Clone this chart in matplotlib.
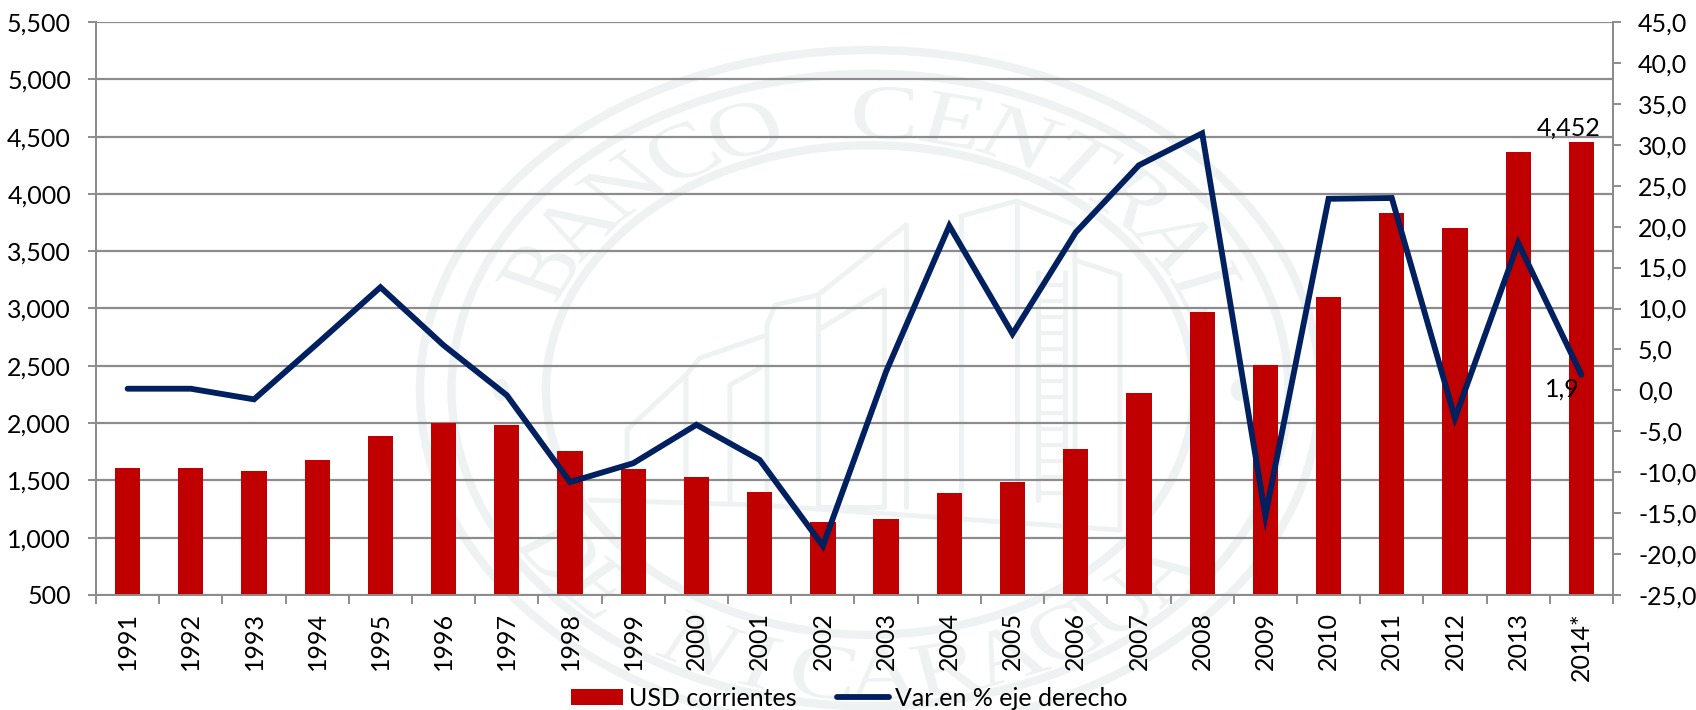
import numpy as np
import matplotlib
matplotlib.use("Agg")
import matplotlib.pyplot as plt
from matplotlib.patches import Ellipse, PathPatch
from matplotlib.path import Path
from matplotlib.textpath import TextPath
from matplotlib.font_manager import FontProperties
from matplotlib.transforms import Affine2D

# data
years = ["1991", "1992", "1993", "1994", "1995", "1996", "1997", "1998", "1999", "2000", "2001", "2002",
         "2003", "2004", "2005", "2006", "2007", "2008", "2009", "2010", "2011", "2012", "2013", "2014*"]
usd = [1605, 1605, 1585, 1680, 1885, 2000, 1985, 1760, 1600, 1530, 1400, 1135,
       1160, 1390, 1490, 1775, 2260, 2970, 2510, 3100, 3830, 3700, 4365, 4452]
var_pct = [0.2, 0.2, -1.1, 5.7, 12.6, 5.5, -0.6, -11.2, -8.9, -4.2, -8.5, -19.0,
           2.3, 20.1, 6.9, 19.3, 27.5, 31.4, -15.3, 23.4, 23.5, -3.4, 18.0, 1.9]
left_ticks = [500, 1000, 1500, 2000, 2500, 3000, 3500, 4000, 4500, 5000, 5500]
right_ticks = [-25, -20, -15, -10, -5, 0, 5, 10, 15, 20, 25, 30, 35, 40, 45]

RED = "#C00000"
NAVY = "#002060"
GREY = "#8C8C8C"
PALE = "#EEF2F2"
W, H = 1696, 710

plt.rcParams["font.family"] = ["Lato", "DejaVu Sans"]
fig = plt.figure(figsize=(W / 100, H / 100), dpi=100)

# watermark, in pixel coordinates of the figure
bg = fig.add_axes([0, 0, 1, 1], zorder=0)
bg.set_xlim(0, W)
bg.set_ylim(H, 0)
bg.axis("off")
cx, cy, rx, ry = 870, 390, 450, 340
for r in [1.0, 0.93, 0.72]:
    bg.add_patch(Ellipse((cx, cy), 2 * rx * r, 2 * ry * r, fill=False, ec=PALE, lw=6))
for sx in [-1, 1]:
    bg.add_patch(Ellipse((cx + sx * 0.82 * rx, cy), 16, 22, fc=PALE, ec="none"))


def arc_text(txt, start, end, radius, bottom=False):
    fp = FontProperties(family="Liberation Serif")
    angles = np.linspace(start, end, len(txt))
    for ch, a in zip(txt, angles):
        if ch == " ":
            continue
        tp = TextPath((0, 0), ch, size=0.23, prop=fp)
        w = tp.get_extents().width
        rot = a + 90 if bottom else a - 90
        tr = Affine2D().translate(-w / 2, 0).rotate_deg(rot)
        tr = tr.translate(radius * np.cos(np.radians(a)), radius * np.sin(np.radians(a)))
        tr = tr.scale(rx, -ry).translate(cx, cy)
        bg.add_patch(PathPatch(tr.transform_path(tp), fc=PALE, ec="none"))


arc_text("BANCO CENTRAL", 155, 22, 0.74)
arc_text("DE NICARAGUA", 214, 320, 0.91, bottom=True)

# building outline of the seal
building = [
    [(961, 216), (1017, 201), (1075, 225), (1075, 520)],
    [(961, 216), (961, 516)],
    [(1017, 201), (1017, 520)],
    [(1075, 260), (1120, 275), (1120, 530)],
    [(906, 225), (906, 507)],
    [(906, 225), (818, 295), (775, 305), (767, 325), (767, 507)],
    [(884, 290), (884, 507), (818, 507), (818, 295)],
    [(884, 290), (818, 330)],
    [(767, 335), (700, 358), (686, 375), (686, 500)],
    [(760, 368), (730, 385), (730, 500)],
    [(686, 375), (627, 430), (627, 480)],
    [(590, 500), (760, 505), (1120, 530)],
    [(1038, 272), (1038, 500)],
    [(1065, 272), (1065, 500)],
]
for pts in building:
    bg.add_patch(PathPatch(Path(pts), fill=False, ec=PALE, lw=3.5, capstyle="round", joinstyle="round"))
for yy in range(285, 500, 16):
    bg.add_patch(PathPatch(Path([(1038, yy), (1065, yy)]), fill=False, ec=PALE, lw=3))

ax = fig.add_axes([96 / W, 1 - 595 / H, (1613 - 96) / W, (595 - 22) / H], zorder=1)
ax.patch.set_alpha(0)
x = np.arange(len(years))
bars = ax.bar(x, usd, width=0.4, color=RED, zorder=2, label="USD corrientes")
ax.set_xlim(-0.5, len(years) - 0.5)
ax.set_ylim(500, 5500)
ax.set_yticks(left_ticks)
ax.set_yticklabels([f"{v:,}" for v in left_ticks])
ax.grid(axis="y", color=GREY, lw=1.6, zorder=1)
ax.set_axisbelow(True)
ax.set_xticks(x)
ax.set_xticklabels(years, rotation=90)
ax.set_xticks(np.arange(-0.5, len(years)), minor=True)
ax.tick_params(axis="x", which="major", length=0, labelsize=18, pad=12.5)
ax.tick_params(axis="x", which="minor", length=6.5, width=1.4, color=GREY)
ax.tick_params(axis="y", length=6, width=1.4, color=GREY, labelsize=18, pad=12)

ax2 = ax.twinx()
ax2.set_zorder(2)
line, = ax2.plot(x, var_pct, color=NAVY, lw=4.2, solid_capstyle="round", solid_joinstyle="miter",
                 label="Var.en % eje derecho")
ax2.set_ylim(-25, 45)
ax2.set_yticks(right_ticks)
ax2.set_yticklabels([f"{v:.1f}".replace(".", ",") for v in right_ticks])
ax2.tick_params(axis="y", length=6, width=1.4, color=GREY, labelsize=18, pad=12)

for a in (ax, ax2):
    a.spines["top"].set_visible(False)
    for s in ("left", "right", "bottom"):
        a.spines[s].set_color(GREY)
        a.spines[s].set_linewidth(1.4)

ax.annotate(f"{usd[-1]:,}", (x[-1], usd[-1]), xytext=(-9, 10), textcoords="offset points",
            ha="center", va="center", fontsize=18, zorder=5)
ax2.annotate(f"{var_pct[-1]:.1f}".replace(".", ","), (x[-1], var_pct[-1]), xytext=(-14, -10),
             textcoords="offset points", ha="center", va="center", fontsize=18, zorder=5)

fig.legend(handles=[bars, line], loc="center", bbox_to_anchor=(849 / W, 1 - 698 / H), ncol=2, frameon=False,
           fontsize=18, handlelength=2.08, handleheight=0.6, handletextpad=0.24, columnspacing=1.6,
           borderpad=0, borderaxespad=0)

fig.savefig("out.png", dpi=100)
